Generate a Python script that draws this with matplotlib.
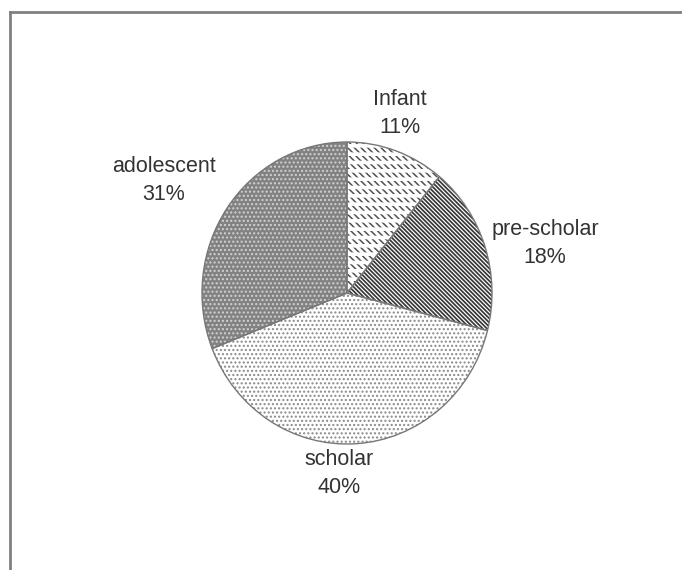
import matplotlib
matplotlib.use("Agg")
import matplotlib.pyplot as plt
from matplotlib.lines import Line2D

# --- data ---
labels = ["Infant", "pre-scholar", "scholar", "adolescent"]
shares = [11, 18, 40, 31]

# per-slice style: facecolor, hatch, hatch colour, hatch width
faces = ["white", "white", "white", "#828282"]
hatches = ["\\" * 5, "\\" * 8, "....", "...."]
hatch_colors = ["#505050", "#383838", "#8a8a8a", "#d2d2d2"]
hatch_widths = [1.1, 1.25, 1.0, 1.0]

# label anchor in pixels: centre x, baseline of the name line
label_pos = [(400, 105), (545, 235), (339, 465), (164, 172)]
line_gap = 28

W, H = 682, 570
cx, cy = 347, 293
rx, ry = 145, 151

plt.rcParams["font.family"] = ["Liberation Sans", "DejaVu Sans"]

fig = plt.figure(figsize=(W / 100, H / 100), dpi=100)
ax = fig.add_axes([0, 0, 1, 1])
# y units squeezed so the pie comes out slightly taller than wide
yscale = rx / ry
center = (cx, (H - cy) * yscale)


def hatch_width(patch, lw):
    plt.rcParams["hatch.linewidth"] = lw
    try:
        patch.set_hatch_linewidth(lw)
    except AttributeError:
        pass


# one pie per slice style so each gets its own hatch width
for i in range(len(shares)):
    plt.rcParams["hatch.linewidth"] = hatch_widths[i]
    ws, _ = ax.pie(shares, startangle=90, counterclock=False,
                   radius=rx, center=center, frame=True,
                   wedgeprops=dict(linewidth=0))
    for j, w in enumerate(ws):
        if j != i:
            w.remove()
            continue
        w.set_facecolor(faces[i])
        w.set_edgecolor(hatch_colors[i])
        w.set_hatch(hatches[i])
        hatch_width(w, hatch_widths[i])

# break the infant stripes into short dashes with white rows
plt.rcParams["hatch.linewidth"] = 2.6
cut, _ = ax.pie(shares, startangle=90, counterclock=False,
                radius=rx, center=center, frame=True,
                wedgeprops=dict(linewidth=0, fill=False))
for i, w in enumerate(cut):
    if i == 0:
        w.set_edgecolor("white")
        w.set_hatch("--")
        hatch_width(w, 2.6)
    else:
        w.remove()

# outlines
plt.rcParams["hatch.linewidth"] = 1.0
ax.pie(shares, startangle=90, counterclock=False,
       radius=rx, center=center, frame=True,
       wedgeprops=dict(linewidth=1.0, fill=False, edgecolor="#777777"))

ax.set_aspect("auto")
ax.set_xlim(0, W)
ax.set_ylim(0, H * yscale)
ax.axis("off")

for lab, val, (x, y) in zip(labels, shares, label_pos):
    ax.text(x / W, 1 - y / H, lab, transform=ax.transAxes, ha="center",
            va="baseline", fontsize=15.5, color="#333333")
    ax.text(x / W, 1 - (y + line_gap) / H, f"{val}%", transform=ax.transAxes,
            ha="center", va="baseline", fontsize=15.5, color="#333333")

# frame round the chart: left and top edges only
fig.add_artist(Line2D([10 / W, 10 / W], [0, 1 - 12 / H], transform=fig.transFigure,
                      color="#808080", linewidth=2))
fig.add_artist(Line2D([10 / W, 1], [1 - 12 / H, 1 - 12 / H], transform=fig.transFigure,
                      color="#808080", linewidth=2))

fig.savefig("out.png", dpi=100)
